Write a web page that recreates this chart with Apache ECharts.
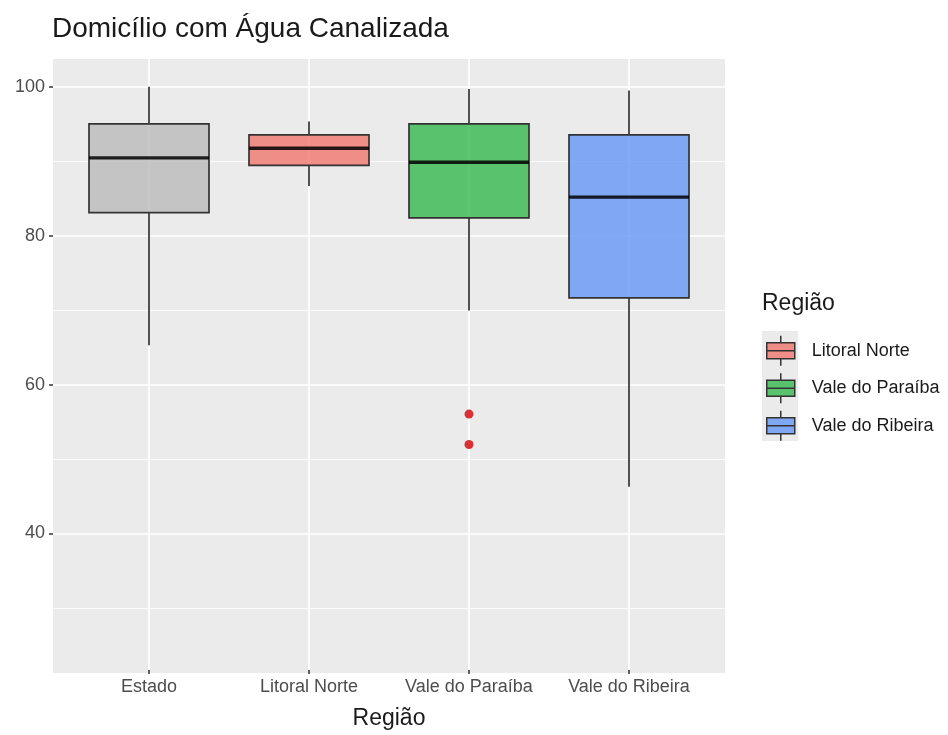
<!DOCTYPE html>
<html>
<head>
<meta charset="utf-8">
<script src="https://cdn.jsdelivr.net/npm/echarts@6/dist/echarts.min.js"></script>
<style>html,body{margin:0;padding:0;background:#fff;}#chart{width:948px;height:735px;}</style>
</head>
<body>
<div id="chart"></div>
<script>
// ---- data ----
const categories = ['Estado', 'Litoral Norte', 'Vale do Paraíba', 'Vale do Ribeira'];
const whiskerLow  = [65.1, 86.6, 69.8, 46.0];
const q1          = [83.0, 89.4, 82.3, 71.5];
const median      = [90.4, 91.7, 89.8, 85.1];
const q3          = [95.0, 93.5, 95.0, 93.5];
const whiskerHigh = [100.0, 95.3, 99.7, 99.5];
const outlierCategory = ['Vale do Paraíba', 'Vale do Paraíba'];
const outlierValue    = [55.8, 51.7];
const legendNames = ['Litoral Norte', 'Vale do Paraíba', 'Vale do Ribeira'];
const yTicks = [40, 60, 80, 100];
const yMinorLines = [30, 50, 70, 90];
const yRange = [21.25, 103.75];

// ---- styles ----
const fills = ['rgba(186,186,186,0.8)', 'rgba(240,118,110,0.8)', 'rgba(30,178,60,0.72)', 'rgba(100,150,245,0.8)'];
const FONT = 'Liberation Sans';

function renderBox(params, api) {
  const x = api.value(0);
  const lo = api.coord([x, api.value(1)]);
  const b = api.coord([x, api.value(2)]);
  const m = api.coord([x, api.value(3)]);
  const t = api.coord([x, api.value(4)]);
  const hi = api.coord([x, api.value(5)]);
  const w = api.size([1, 0])[0] * 0.75;
  const cx = lo[0];
  const ls = { stroke: '#333333', lineWidth: 1.7 };
  return {
    type: 'group',
    children: [
      { type: 'line', shape: { x1: cx, y1: hi[1], x2: cx, y2: t[1] }, style: ls },
      { type: 'line', shape: { x1: cx, y1: b[1], x2: cx, y2: lo[1] }, style: ls },
      { type: 'rect', shape: { x: cx - w / 2, y: t[1], width: w, height: b[1] - t[1] },
        style: { fill: api.visual('color'), stroke: '#333333', lineWidth: 1.7 } },
      { type: 'line', shape: { x1: cx - w / 2, y1: m[1], x2: cx + w / 2, y2: m[1] },
        style: { stroke: 'rgba(0,0,0,0.85)', lineWidth: 3.4 } }
    ]
  };
}

const boxSeries = categories.map((c, i) => ({
  name: c,
  type: 'custom',
  xAxisIndex: 0,
  yAxisIndex: 0,
  z: 10,
  itemStyle: { color: fills[i] },
  renderItem: renderBox,
  encode: { x: 0, y: [1, 2, 3, 4, 5] },
  data: [[c, whiskerLow[i], q1[i], median[i], q3[i], whiskerHigh[i]]]
}));

const gridLineSeries = {
  name: 'hgrid',
  type: 'line',
  xAxisIndex: 1,
  yAxisIndex: 1,
  z: 1,
  data: [],
  silent: true,
  markLine: {
    z: 1,
    silent: true,
    symbol: ['none', 'none'],
    label: { show: false },
    animation: false,
    data: yTicks.map(v => ({ yAxis: v, lineStyle: { color: '#ffffff', width: 1.7, type: 'solid' } }))
      .concat(yMinorLines.map(v => ({ yAxis: v, lineStyle: { color: '#ffffff', width: 0.8, type: 'solid' } })))
  }
};

const vGridSeries = {
  name: 'vgrid',
  type: 'line',
  xAxisIndex: 0,
  yAxisIndex: 0,
  z: 1,
  data: [],
  silent: true,
  markLine: {
    z: 1,
    silent: true,
    symbol: ['none', 'none'],
    label: { show: false },
    animation: false,
    data: categories.map(c => ({ xAxis: c, lineStyle: { color: '#ffffff', width: 1.7, type: 'solid' } }))
  }
};

const outlierSeries = {
  name: 'outliers',
  type: 'scatter',
  xAxisIndex: 0,
  yAxisIndex: 0,
  z: 12,
  symbol: 'circle',
  symbolSize: 9,
  itemStyle: { color: '#D7262B', opacity: 0.95 },
  data: outlierCategory.map((c, i) => [c, outlierValue[i]])
};

const option = {
  animation: false,
  backgroundColor: '#ffffff',
  textStyle: { fontFamily: FONT },
  title: [
    { text: 'Domicílio com Água Canalizada', left: 52, top: 15, padding: 0,
      textStyle: { fontFamily: FONT, fontSize: 28, fontWeight: 'normal', color: '#1a1a1a' } },
    { text: 'Região', left: 762, top: 292, padding: 0,
      textStyle: { fontFamily: FONT, fontSize: 23, fontWeight: 'normal', color: '#1a1a1a' } }
  ],
  graphic: [
    { type: 'rect', z: 0, shape: { x: 762, y: 331, width: 36, height: 110 }, style: { fill: '#EBEBEB' } }
  ],
  legend: {
    data: legendNames,
    orient: 'vertical',
    left: 766,
    top: 335,
    padding: 0,
    itemWidth: 28,
    itemHeight: 30,
    itemGap: 6,
    icon: 'path://M0,7H28V23H0Z M0,15H28 M14,0V7 M14,23V30',
    itemStyle: { borderColor: '#333333', borderWidth: 1.5 },
    textStyle: { fontFamily: FONT, fontSize: 18, color: '#1a1a1a', padding: [0, 0, 0, 12] },
    selectedMode: false
  },
  grid: [
    { left: 69, top: 59, width: 640, height: 614, show: false },
    { left: 53, top: 59, width: 672, height: 614, show: true, backgroundColor: '#EBEBEB', borderWidth: 0 }
  ],
  xAxis: [
    {
      gridIndex: 0, type: 'category', data: categories, boundaryGap: true,
      axisLine: { show: false },
      axisTick: { show: true, interval: 0, alignWithLabel: true, length: 4, lineStyle: { color: '#333333', width: 1.5 } },
      axisLabel: { interval: 0, hideOverlap: false, fontFamily: FONT, fontSize: 18, color: '#4d4d4d', margin: 8 },
      splitLine: { show: false },
      name: 'Região', nameLocation: 'middle', nameGap: 37,
      nameTextStyle: { fontFamily: FONT, fontSize: 23, color: '#1a1a1a' }
    },
    { gridIndex: 1, type: 'value', min: 0, max: 1, show: false }
  ],
  yAxis: [
    { gridIndex: 0, type: 'value', min: yRange[0], max: yRange[1], show: false, splitLine: { show: false } },
    {
      gridIndex: 1, type: 'value', min: yRange[0], max: yRange[1],
      axisLine: { show: false },
      axisTick: { show: true, length: 4, customValues: yTicks, lineStyle: { color: '#333333', width: 1.5 } },
      axisLabel: { fontFamily: FONT, fontSize: 18, color: '#4d4d4d', margin: 8, customValues: yTicks },
      splitLine: { show: false }
    }
  ],
  series: [gridLineSeries, vGridSeries].concat(boxSeries).concat([outlierSeries])
};

const chart = echarts.init(document.getElementById('chart'), null, { renderer: 'canvas' });
chart.setOption(option);
</script>
</body>
</html>
